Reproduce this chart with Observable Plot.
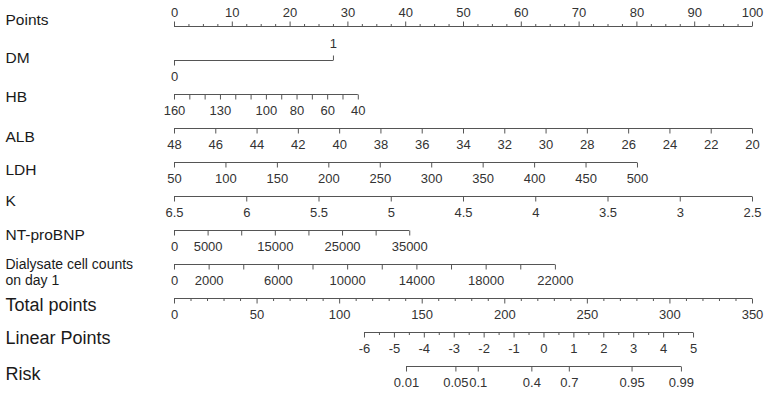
<!DOCTYPE html>
<html><head><meta charset="utf-8">
<script src="https://cdn.jsdelivr.net/npm/d3@7"></script>
<script src="https://cdn.jsdelivr.net/npm/@observablehq/plot@0.6"></script>
<style>body{margin:0;background:#fff;font-family:"Liberation Sans",Arial,sans-serif}</style>
</head><body><div id="chart"></div>
<script>
// ---------- data ----------
const rowNames = ["Points","DM","HB","ALB","LDH","K","NT-proBNP","Dialysate cell counts\non day 1","Total points","Linear Points","Risk"];

const pointsMajor = [0,10,20,30,40,50,60,70,80,90,100];
const pointsMinorStep = 2.5;

const dmValues = [0,1];
const dmPoints = [0,27.5];

const hbTicks = [160,150,140,130,120,110,100,90,80,70,60,50,40];
const hbLabels = [160,130,100,80,60,40];
const hbEnds = [160,40], hbEndPoints = [0,31.8];

const albTicks = [48,46,44,42,40,38,36,34,32,30,28,26,24,22,20];
const albEnds = [48,20], albEndPoints = [0,100];

const ldhTicks = [50,100,150,200,250,300,350,400,450,500];
const ldhEnds = [50,500], ldhEndPoints = [0,80.1];

const kTicks = [6.5,6,5.5,5,4.5,4,3.5,3,2.5];
const kEnds = [6.5,2.5], kEndPoints = [0,100];

const ntTicks = [0,5000,10000,15000,20000,25000,30000,35000];
const ntLabels = [0,5000,15000,25000,35000];
const ntEnds = [0,35000], ntEndPoints = [0,40.7];

const dialTicks = [0,2000,4000,6000,8000,10000,12000,14000,16000,18000,20000,22000];
const dialLabels = [0,2000,6000,10000,14000,18000,22000];
const dialEnds = [0,22000], dialEndPoints = [0,65.9];

const totalMajor = [0,50,100,150,200,250,300,350];
const totalMinorStep = 10;
const totalMax = 350;

const lpMajor = [-6,-5,-4,-3,-2,-1,0,1,2,3,4,5];
const lpMinorStep = 0.5;
const lpEnds = [-6,5], lpEndTotal = [115.05,314.3];

const riskTicks = [0.01,0.05,0.1,0.4,0.7,0.95,0.99];

// ---------- build ----------
const lin = (v0,v1,p0,p1) => v => p0 + (v - v0) * (p1 - p0) / (v1 - v0);
const fmt = v => String(v);

const lines = [], ticks = [], labels = [];
function addRow(row, vals, toX, labelVals, opts = {}) {
  const xs = vals.map(toX);
  lines.push({row, x1: d3.min(xs), x2: d3.max(xs)});
  vals.forEach(v => ticks.push({row, x: toX(v), major: true, dir: opts.dir || "down"}));
  (opts.minor || []).forEach(v => ticks.push({row, x: toX(v), major: false, dir: opts.dir || "down"}));
  labelVals.forEach(v => labels.push({row, x: toX(v), text: fmt(v), pos: opts.dir === "up" ? "above" : "below"}));
}

// Points
addRow(rowNames[0], pointsMajor, v => v, pointsMajor,
  {dir: "up", minor: d3.range(0, 100.001, pointsMinorStep).filter(v => v % 10 !== 0)});
// DM
lines.push({row: rowNames[1], x1: dmPoints[0], x2: dmPoints[1]});
ticks.push({row: rowNames[1], x: dmPoints[0], major: true, dir: "down"});
ticks.push({row: rowNames[1], x: dmPoints[1], major: true, dir: "up"});
labels.push({row: rowNames[1], x: dmPoints[0], text: fmt(dmValues[0]), pos: "below"});
labels.push({row: rowNames[1], x: dmPoints[1], text: fmt(dmValues[1]), pos: "aboveDM"});
// HB
addRow(rowNames[2], hbTicks, lin(hbEnds[0], hbEnds[1], hbEndPoints[0], hbEndPoints[1]), hbLabels);
// ALB
addRow(rowNames[3], albTicks, lin(albEnds[0], albEnds[1], albEndPoints[0], albEndPoints[1]), albTicks);
// LDH
addRow(rowNames[4], ldhTicks, lin(ldhEnds[0], ldhEnds[1], ldhEndPoints[0], ldhEndPoints[1]), ldhTicks);
// K
addRow(rowNames[5], kTicks, lin(kEnds[0], kEnds[1], kEndPoints[0], kEndPoints[1]), kTicks);
// NT-proBNP
addRow(rowNames[6], ntTicks, lin(ntEnds[0], ntEnds[1], ntEndPoints[0], ntEndPoints[1]), ntLabels);
// Dialysate
addRow(rowNames[7], dialTicks, lin(dialEnds[0], dialEnds[1], dialEndPoints[0], dialEndPoints[1]), dialLabels);
// Total points
const totalToX = v => v * 100 / totalMax;
addRow(rowNames[8], totalMajor, totalToX, totalMajor,
  {minor: d3.range(0, totalMax + 0.001, totalMinorStep).filter(v => v % 50 !== 0)});
// Linear points
const lpToX = v => totalToX(lin(lpEnds[0], lpEnds[1], lpEndTotal[0], lpEndTotal[1])(v));
addRow(rowNames[9], lpMajor, lpToX, lpMajor,
  {minor: d3.range(lpEnds[0], lpEnds[1] + 0.001, lpMinorStep).filter(v => !Number.isInteger(v))});
// Risk
const logit = p => Math.log(p / (1 - p));
addRow(rowNames[10], riskTicks, p => lpToX(logit(p)), riskTicks);

// ---------- layout ----------
const labelDy = [-7,-3.5,2,8,6.5,4,3.6,7,6,4.5,7];
const labelSize = [15.5,15.5,15.5,15.5,15.5,15.5,15.5,14,18,18,18];

const tickDown = {draw(ctx, size) { const l = Math.sqrt(size / Math.PI); ctx.moveTo(0, 0); ctx.lineTo(0, l); }};
const tickUp = {draw(ctx, size) { const l = Math.sqrt(size / Math.PI); ctx.moveTo(0, 0); ctx.lineTo(0, -l); }};
const lineColor = "#555";
const tickStyle = {x: "x", y: "row", fill: "none", stroke: lineColor, strokeWidth: 1};
const tickFont = 13;

const marks = [
  Plot.ruleY(lines, {y: "row", x1: "x1", x2: "x2", stroke: lineColor, strokeWidth: 1.2}),
  Plot.dot(ticks.filter(d => d.dir === "down" && d.major), {...tickStyle, r: 5, symbol: tickDown}),
  Plot.dot(ticks.filter(d => d.dir === "down" && !d.major), {...tickStyle, r: 2.5, symbol: tickDown}),
  Plot.dot(ticks.filter(d => d.dir === "up" && d.major), {...tickStyle, r: 5, symbol: tickUp}),
  Plot.dot(ticks.filter(d => d.dir === "up" && !d.major), {...tickStyle, r: 2.5, symbol: tickUp}),
  Plot.text(labels.filter(d => d.pos === "below"), {x: "x", y: "row", text: "text", dy: 16.5, fontSize: tickFont, fill: "#333", lineAnchor: "middle"}),
  Plot.text(labels.filter(d => d.pos === "above"), {x: "x", y: "row", text: "text", dy: -14, fontSize: tickFont, fill: "#333", lineAnchor: "middle"}),
  Plot.text(labels.filter(d => d.pos === "aboveDM"), {x: "x", y: "row", text: "text", dy: -16.5, fontSize: tickFont, fill: "#333", lineAnchor: "middle"})
];
rowNames.forEach((name, i) => {
  marks.push(Plot.text([name], {y: d => d, text: d => d, frameAnchor: "left", dx: -169, dy: labelDy[i],
    textAnchor: "start", lineAnchor: "middle", fontSize: labelSize[i], fill: "#1a1a1a", lineHeight: 1.15}));
});

const chart = Plot.plot({
  width: 767, height: 395,
  marginLeft: 174, marginRight: 15, marginTop: 0, marginBottom: 0,
  style: {fontFamily: "'Liberation Sans', Arial, sans-serif", background: "#fff"},
  x: {domain: [0, 100], axis: null},
  y: {type: "point", domain: rowNames, range: [24, 368], padding: 0, axis: null},
  marks
});
document.getElementById("chart").appendChild(chart);
</script></body></html>
